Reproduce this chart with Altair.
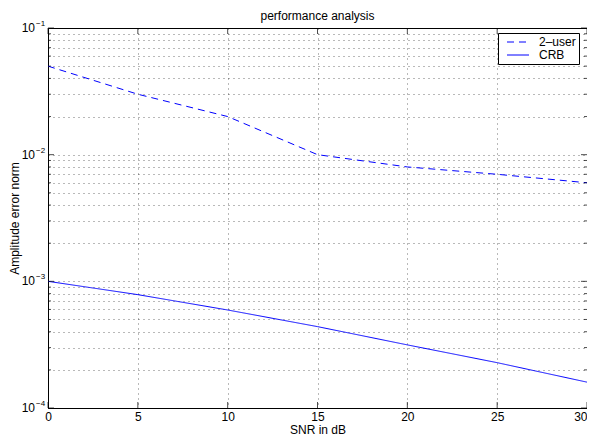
import altair as alt
import pandas as pd

# ---- data ----
snr_db = [0, 5, 10, 15, 20, 25, 30]
two_user = [0.05, 0.03, 0.02, 0.01, 0.008, 0.007, 0.006]
crb = [1.0e-3, 7.85e-4, 5.94e-4, 4.39e-4, 3.15e-4, 2.28e-4, 1.6e-4]
series_names = ["2–user", "CRB"]

x_ticks = [0, 5, 10, 15, 20, 25, 30]
y_decades = [1e-4, 1e-3, 1e-2, 1e-1]
y_exponents = ["−4", "−3", "−2", "−1"]
y_mantissas = [1, 2, 3, 4, 5, 6, 7, 8, 9]

W, H = 539, 380
FONT = "Liberation Sans"

lines_df = pd.DataFrame({
    "snr": snr_db + snr_db,
    "err": two_user + crb,
    "series": [series_names[0]] * len(snr_db) + [series_names[1]] * len(snr_db),
})

y_minor = [m * d for d in y_decades[:-1] for m in y_mantissas if m != 1]
y_grid_vals = y_decades + y_minor
major_df = pd.DataFrame({"v": y_decades})
minor_df = pd.DataFrame({"v": y_minor})
xt_df = pd.DataFrame({"v": x_ticks})
lab_df = pd.DataFrame({"v": y_decades, "base": ["10"] * len(y_decades), "exp": y_exponents})

xscale = alt.Scale(domain=[0, 30], nice=False, zero=False)
yscale = alt.Scale(type="log", domain=[1e-4, 1e-1], nice=False)

grid_kw = dict(grid=True, gridDash=[1, 4], gridColor="#000000", gridOpacity=0.55, gridWidth=1,
               ticks=False, domainColor="black", domainWidth=1)

x_axis = alt.Axis(values=x_ticks, labelFontSize=12, labelFont=FONT, labelColor="black",
                  labelPadding=3, labelFlush=False,
                  labelAlign={"condition": {"test": f"datum.value == {x_ticks[-1]}", "value": "right"},
                              "value": "center"},
                  title="SNR in dB", titleFontSize=12,
                  titleFont=FONT, titleFontWeight="normal", titleColor="black",
                  titlePadding=2, **grid_kw)
y_axis = alt.Axis(values=y_grid_vals, labels=False, title="Amplitude error norm",
                  titleFontSize=12, titleFont=FONT, titleFontWeight="normal",
                  titleColor="black", titlePadding=27, **grid_kw)


def X(field):
    return alt.X(field, scale=xscale, axis=x_axis, title="SNR in dB")


def Y(field):
    return alt.Y(field, scale=yscale, axis=y_axis, title="Amplitude error norm")


legend = alt.Legend(orient="none", legendX=450, legendY=5, fillColor="white", strokeColor="black",
                    padding=3, symbolType="M-2.75,0H2.75", symbolSize=64, symbolStrokeWidth=1,
                    symbolOffset=11, labelOffset=15, labelFontSize=12, labelFont=FONT,
                    labelColor="black", rowPadding=1, cornerRadius=0, title=None,
                    labelExpr="datum.label + '\u00a0\u00a0'")

lines = alt.Chart(lines_df).mark_line(strokeWidth=1).encode(
    x=X("snr:Q"),
    y=Y("err:Q"),
    color=alt.Color("series:N", scale=alt.Scale(domain=series_names, range=["#0000ff", "#0000ff"]),
                    legend=legend, title=None),
    strokeDash=alt.StrokeDash("series:N", scale=alt.Scale(domain=series_names, range=[[7, 5], [1, 0]]),
                              legend=legend, title=None),
)

tick_common = dict(color="black", thickness=1)
x_bottom = alt.Chart(xt_df).mark_tick(orient="vertical", size=6, **tick_common).encode(
    x=X("v:Q"), y=alt.value(H - 3))
x_top = alt.Chart(xt_df).mark_tick(orient="vertical", size=6, **tick_common).encode(
    x=X("v:Q"), y=alt.value(3))
y_left_major = alt.Chart(major_df).mark_tick(orient="horizontal", size=6, **tick_common).encode(
    y=Y("v:Q"), x=alt.value(3))
y_right_major = alt.Chart(major_df).mark_tick(orient="horizontal", size=6, **tick_common).encode(
    y=Y("v:Q"), x=alt.value(W - 3))
y_left_minor = alt.Chart(minor_df).mark_tick(orient="horizontal", size=3, **tick_common).encode(
    y=Y("v:Q"), x=alt.value(1.5))
y_right_minor = alt.Chart(minor_df).mark_tick(orient="horizontal", size=3, **tick_common).encode(
    y=Y("v:Q"), x=alt.value(W - 1.5))

base_txt = alt.Chart(lab_df).mark_text(align="right", baseline="middle", fontSize=12, font=FONT,
                                       color="black").encode(
    y=Y("v:Q"), x=alt.value(-13), text="base:N")
exp_txt = alt.Chart(lab_df).mark_text(align="left", baseline="middle", fontSize=8, font=FONT,
                                      color="black", dy=-4).encode(
    y=Y("v:Q"), x=alt.value(-12), text="exp:N")

chart = alt.layer(
    lines, x_bottom, x_top, y_left_major, y_right_major, y_left_minor, y_right_minor,
    base_txt, exp_txt,
).properties(
    width=W, height=H,
    title=alt.Title("performance analysis", fontSize=12, font=FONT, fontWeight="normal",
                    color="black", anchor="middle", offset=0, dy=3),
    padding={"left": 40, "top": 20, "right": 0, "bottom": 27},
    autosize=alt.AutoSizeParams(type="none"),
    background="white",
).configure_view(
    stroke="black", strokeWidth=1
)

chart.save("out.html", embed_options={"renderer": "svg", "actions": False})
